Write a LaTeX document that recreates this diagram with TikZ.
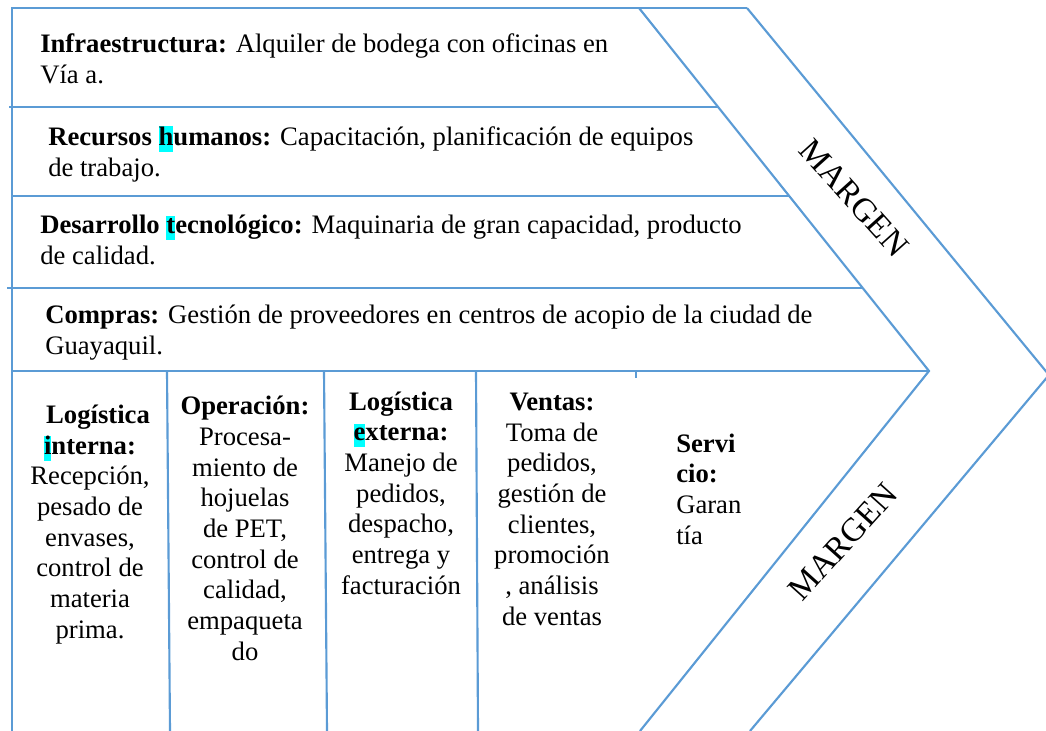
\documentclass[tikz,border=0pt]{standalone}
\usepackage{fontspec}
\setmainfont{Liberation Serif}
\definecolor{framec}{HTML}{5B9BD5}
\definecolor{hlcyan}{HTML}{00FFFF}
\newcommand{\hlc}[1]{{\setlength{\fboxsep}{0pt}\colorbox{hlcyan}{\rule[-5pt]{0pt}{17.5pt}#1}}}
\begin{document}
\begin{tikzpicture}[x=0.75pt,y=-0.75pt,
  ln/.style={draw=framec,line width=1.6pt},
  toptxt/.style={anchor=base west,inner sep=0pt,align=left,font=\fontsize{20}{23.25}\selectfont},
  coltxt/.style={anchor=base,inner sep=0pt,align=center,font=\fontsize{20}{23}\selectfont},
  mg/.style={inner sep=0pt,font=\fontsize{25}{28}\selectfont}]
\useasboundingbox (0,0) rectangle (1046,731);
% chevron corners
\coordinate (tl) at (12,8);
\coordinate (bl) at (12,731);
\coordinate (itop) at (639,8);
\coordinate (otop) at (747,8);
\coordinate (itip) at (929,371);
\coordinate (otip) at (1049,375);
\coordinate (ibot) at (640,731);
\coordinate (obot) at (750,731);
% frame
\draw[ln] (bl) -- (tl) -- (otop);
\draw[ln] (itop) -- (itip) -- (ibot);
\draw[ln] (otop) -- (otip) -- (obot);
% horizontal dividers
\draw[ln] (9,107) -- (718,107);
\draw[ln] (12,196) -- (790,196);
\draw[ln] (7,288) -- (863,288);
\draw[ln] (12,371) -- (itip);
% column dividers
\draw[ln] (167,371) -- (170,731);
\draw[ln] (324,371) -- (327,731);
\draw[ln] (476,371) -- (478,731);
\draw[ln] (636,371) -- (636,378);
% top texts (anchor = baseline of last line)
\node[toptxt] (infra) at (40,84) {\textbf{Infraestructura:} Alquiler de bodega con oficinas en\\Vía a.};
\node[toptxt] (rrhh) at (48,176) {\textbf{Recursos \hlc{h}umanos:} Capacitación, planificación de equipos\\de trabajo.};
\node[toptxt] (tec) at (40,264) {\textbf{Desarrollo \hlc{t}ecnológico:} Maquinaria de gran capacidad, producto\\de calidad.};
\node[toptxt] (comp) at (45,354) {\textbf{Compras:} Gestión de proveedores en centros de acopio de la ciudad de\\Guayaquil.};
% columns (anchor = baseline of last line)
\node[coltxt] (c1) at (90,638) {\hspace*{12pt}\textbf{Logística}\\\textbf{\hlc{i}nterna:}\\Recepción,\\pesado de\\envases,\\control de\\materia\\prima.};
\node[coltxt] (c2) at (245,660) {\textbf{Operación:}\\Procesa-\\miento de\\hojuelas\\de PET,\\control de\\calidad,\\empaqueta\\do};
\node[coltxt] (c3) at (401,594) {\textbf{Logística}\\\textbf{\hlc{e}xterna:}\\Manejo de\\pedidos,\\despacho,\\entrega y\\facturación};
\node[coltxt] (c4) at (552,625) {\textbf{Ventas:}\\Toma de\\pedidos,\\gestión de\\clientes,\\promoción\\, análisis\\de ventas};
\node[coltxt,anchor=base west,align=left] (c5) at (676,544) {\textbf{Servi}\\\textbf{cio:}\\Garan\\tía};
% margen labels
\node[mg,rotate=-48] (m1) at (854,198) {MARGEN};
\node[mg,rotate=48] (m2) at (843,542) {MARGEN};
\end{tikzpicture}
\end{document}
